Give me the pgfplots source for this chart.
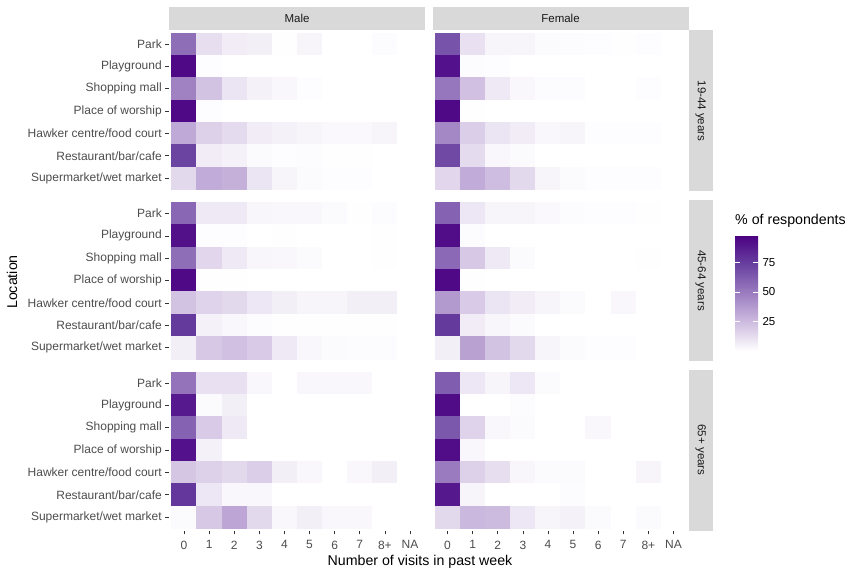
\documentclass[border=0pt]{standalone}
\usepackage{pgfplots}
\pgfplotsset{compat=1.18}
\usepackage{pgfplotstable}
\usepackage{fontspec}
\setmainfont{Liberation Sans}
\definecolor{stripbg}{HTML}{D9D9D9}
\definecolor{stripfg}{HTML}{1A1A1A}
\definecolor{ticklab}{HTML}{4D4D4D}
\definecolor{tickcol}{HTML}{333333}

% Male 19-44
\pgfplotstableread[row sep=\\]{
x y c\\
0 7 55\\ 1 7 12\\ 2 7 7\\ 3 7 6\\ 4 7 0.5\\ 5 7 4\\ 6 7 0\\ 7 7 0\\ 8 7 1.5\\ 9 7 0\\
0 6 95\\ 1 6 1\\ 2 6 0\\ 3 6 0\\ 4 6 0\\ 5 6 0\\ 6 6 0\\ 7 6 0\\ 8 6 0\\ 9 6 0\\
0 5 47\\ 1 5 22\\ 2 5 10\\ 3 5 5\\ 4 5 3\\ 5 5 1\\ 6 5 0\\ 7 5 0\\ 8 5 0\\ 9 5 0\\
0 4 95\\ 1 4 1\\ 2 4 0\\ 3 4 0\\ 4 4 0\\ 5 4 0\\ 6 4 0\\ 7 4 0\\ 8 4 0\\ 9 4 0\\
0 3 32\\ 1 3 17\\ 2 3 13\\ 3 3 7\\ 4 3 5\\ 5 3 4\\ 6 3 2.5\\ 7 3 2.5\\ 8 3 4\\ 9 3 0\\
0 2 72\\ 1 2 7\\ 2 2 5\\ 3 2 2\\ 4 2 1\\ 5 2 1.5\\ 6 2 0.5\\ 7 2 0.5\\ 8 2 0\\ 9 2 0\\
0 1 14\\ 1 1 31\\ 2 1 29\\ 3 1 10\\ 4 1 4\\ 5 1 2\\ 6 1 1\\ 7 1 1\\ 8 1 0\\ 9 1 0\\
}\Mone
% Female 19-44
\pgfplotstableread[row sep=\\]{
x y c\\
0 7 66\\ 1 7 11\\ 2 7 4\\ 3 7 4\\ 4 7 2\\ 5 7 1.5\\ 6 7 1\\ 7 7 0.5\\ 8 7 1\\ 9 7 0\\
0 6 91\\ 1 6 1.5\\ 2 6 1\\ 3 6 0\\ 4 6 0\\ 5 6 0\\ 6 6 0\\ 7 6 0\\ 8 6 0\\ 9 6 0\\
0 5 52\\ 1 5 23\\ 2 5 8\\ 3 5 3\\ 4 5 1.5\\ 5 5 1.5\\ 6 5 0\\ 7 5 0\\ 8 5 1\\ 9 5 0\\
0 4 95\\ 1 4 0.5\\ 2 4 0\\ 3 4 0\\ 4 4 0\\ 5 4 0\\ 6 4 0\\ 7 4 0\\ 8 4 0\\ 9 4 0\\
0 3 45\\ 1 3 18\\ 2 3 10\\ 3 3 7\\ 4 3 3\\ 5 3 4\\ 6 3 1\\ 7 3 1\\ 8 3 1\\ 9 3 0\\
0 2 70\\ 1 2 13\\ 2 2 3\\ 3 2 2\\ 4 2 0\\ 5 2 0\\ 6 2 0\\ 7 2 0\\ 8 2 0\\ 9 2 0\\
0 1 15\\ 1 1 31\\ 2 1 24\\ 3 1 14\\ 4 1 4\\ 5 1 2\\ 6 1 1\\ 7 1 1\\ 8 1 1\\ 9 1 0\\
}\Fone
% Male 45-64
\pgfplotstableread[row sep=\\]{
x y c\\
0 7 58\\ 1 7 8\\ 2 7 8\\ 3 7 3.5\\ 4 7 3\\ 5 7 3\\ 6 7 2\\ 7 7 0.5\\ 8 7 1.5\\ 9 7 0\\
0 6 92\\ 1 6 1\\ 2 6 1\\ 3 6 0\\ 4 6 0.5\\ 5 6 0\\ 6 6 0\\ 7 6 0\\ 8 6 0.5\\ 9 6 0\\
0 5 55\\ 1 5 15\\ 2 5 8\\ 3 5 3.5\\ 4 5 3\\ 5 5 2\\ 6 5 0\\ 7 5 0\\ 8 5 0.5\\ 9 5 0\\
0 4 95\\ 1 4 0.3\\ 2 4 0.5\\ 3 4 0\\ 4 4 0\\ 5 4 0\\ 6 4 0\\ 7 4 0\\ 8 4 0\\ 9 4 0\\
0 3 22\\ 1 3 16\\ 2 3 14\\ 3 3 9\\ 4 3 6\\ 5 3 4\\ 6 3 4\\ 7 3 6\\ 8 3 6\\ 9 3 0\\
0 2 76\\ 1 2 5\\ 2 2 3\\ 3 2 1.5\\ 4 2 0.5\\ 5 2 0.5\\ 6 2 0.5\\ 7 2 0.5\\ 8 2 0.5\\ 9 2 0\\
0 1 6\\ 1 1 20\\ 2 1 23\\ 3 1 19\\ 4 1 8\\ 5 1 3\\ 6 1 2\\ 7 1 1.5\\ 8 1 1.5\\ 9 1 0\\
}\Mtwo
% Female 45-64
\pgfplotstableread[row sep=\\]{
x y c\\
0 7 60\\ 1 7 9\\ 2 7 4\\ 3 7 4\\ 4 7 2.5\\ 5 7 1.5\\ 6 7 1\\ 7 7 1\\ 8 7 0.5\\ 9 7 0\\
0 6 93\\ 1 6 1.5\\ 2 6 0\\ 3 6 0\\ 4 6 0\\ 5 6 0\\ 6 6 0\\ 7 6 0\\ 8 6 0\\ 9 6 0\\
0 5 57\\ 1 5 20\\ 2 5 8\\ 3 5 2\\ 4 5 0\\ 5 5 0\\ 6 5 0\\ 7 5 0\\ 8 5 0.5\\ 9 5 0\\
0 4 95\\ 1 4 0.5\\ 2 4 0\\ 3 4 0\\ 4 4 0\\ 5 4 0\\ 6 4 0\\ 7 4 0\\ 8 4 0\\ 9 4 0\\
0 3 38\\ 1 3 19\\ 2 3 10\\ 3 3 7\\ 4 3 4\\ 5 3 2\\ 6 3 0\\ 7 3 3\\ 8 3 0\\ 9 3 0\\
0 2 76\\ 1 2 7\\ 2 2 3.5\\ 3 2 2\\ 4 2 0\\ 5 2 0\\ 6 2 0\\ 7 2 0\\ 8 2 0\\ 9 2 0\\
0 1 6\\ 1 1 35\\ 2 1 22\\ 3 1 14\\ 4 1 4\\ 5 1 2\\ 6 1 1\\ 7 1 1\\ 8 1 0\\ 9 1 0\\
}\Ftwo
% Male 65+
\pgfplotstableread[row sep=\\]{
x y c\\
0 7 53\\ 1 7 11\\ 2 7 11\\ 3 7 3\\ 4 7 0\\ 5 7 3\\ 6 7 3\\ 7 7 3\\ 8 7 0\\ 9 7 0\\
0 6 88\\ 1 6 2\\ 2 6 6\\ 3 6 0\\ 4 6 0\\ 5 6 0\\ 6 6 0\\ 7 6 0\\ 8 6 0\\ 9 6 0\\
0 5 60\\ 1 5 19\\ 2 5 8\\ 3 5 0\\ 4 5 0\\ 5 5 0\\ 6 5 0\\ 7 5 0\\ 8 5 0\\ 9 5 0\\
0 4 91\\ 1 4 5\\ 2 4 0\\ 3 4 0\\ 4 4 0\\ 5 4 0\\ 6 4 0\\ 7 4 0\\ 8 4 0\\ 9 4 0\\
0 3 21\\ 1 3 17\\ 2 3 14\\ 3 3 18\\ 4 3 6\\ 5 3 3\\ 6 3 0\\ 7 3 3\\ 8 3 6\\ 9 3 0\\
0 2 77\\ 1 2 9\\ 2 2 3\\ 3 2 3\\ 4 2 0\\ 5 2 0\\ 6 2 0\\ 7 2 0\\ 8 2 0\\ 9 2 0\\
0 1 2\\ 1 1 20\\ 2 1 33\\ 3 1 14\\ 4 1 3\\ 5 1 6\\ 6 1 3\\ 7 1 3\\ 8 1 0\\ 9 1 0\\
}\Mthree
% Female 65+
\pgfplotstableread[row sep=\\]{
x y c\\
0 7 62\\ 1 7 9\\ 2 7 4\\ 3 7 9\\ 4 7 2\\ 5 7 0\\ 6 7 0\\ 7 7 0\\ 8 7 0\\ 9 7 0\\
0 6 94\\ 1 6 0\\ 2 6 0\\ 3 6 1.5\\ 4 6 0\\ 5 6 0\\ 6 6 0\\ 7 6 0\\ 8 6 0\\ 9 6 0\\
0 5 64\\ 1 5 16\\ 2 5 3\\ 3 5 2\\ 4 5 0\\ 5 5 0\\ 6 5 3\\ 7 5 0\\ 8 5 0\\ 9 5 0\\
0 4 93\\ 1 4 3\\ 2 4 0\\ 3 4 0\\ 4 4 0\\ 5 4 0\\ 6 4 0\\ 7 4 0\\ 8 4 0\\ 9 4 0\\
0 3 50\\ 1 3 17\\ 2 3 12\\ 3 3 3.5\\ 4 3 2\\ 5 3 2\\ 6 3 0\\ 7 3 0\\ 8 3 4\\ 9 3 0\\
0 2 89\\ 1 2 4\\ 2 2 0\\ 3 2 0\\ 4 2 0\\ 5 2 1.5\\ 6 2 0\\ 7 2 0\\ 8 2 0\\ 9 2 0\\
0 1 14\\ 1 1 26\\ 2 1 25\\ 3 1 9\\ 4 1 4\\ 5 1 5\\ 6 1 2\\ 7 1 0\\ 8 1 2\\ 9 1 0\\
}\Fthree

\pgfplotsset{
  colormap={ggpurp}{rgb255=(255,255,255) rgb255=(206,188,224) rgb255=(156,125,192) rgb255=(104,64,160) rgb255=(75,0,130)},
  panel/.style={
    scale only axis, width=256pt, height=161pt,
    xmin=-0.6, xmax=9.6, ymin=0.4, ymax=7.6,
    axis line style={draw=none},
    colormap name=ggpurp, point meta min=0, point meta max=98,
    tick align=outside, major tick length=3.7pt,
    tick style={draw=tickcol, line width=0.55pt},
    xtick=\empty, ytick=\empty,
    ticklabel style={font=\fontsize{12}{14}\selectfont, text=ticklab},
    xticklabel style={yshift=-3pt},
    anchor=south west,
  },
  xt/.style={xtick={0,...,9}, xticklabels={0,1,2,3,4,5,6,7,8+,NA}, xtick pos=bottom},
  yt/.style={ytick={1,...,7}, yticklabels={Supermarket/wet market,Restaurant/bar/cafe,Hawker centre/food court,Place of worship,Shopping mall,Playground,Park}, ytick pos=left},
  heat/.style={matrix plot*, mesh/cols=10, point meta=explicit},
}

\begin{document}
\begin{tikzpicture}
\useasboundingbox[fill=white] (0pt,0pt) rectangle (864pt,576pt);

% top strips
\fill[stripbg] (169pt,545.5pt) rectangle (425pt,569.3pt);
\fill[stripbg] (432.5pt,545.5pt) rectangle (688.5pt,569.3pt);
\node[text=stripfg, font=\fontsize{11.5}{13}\selectfont] at (297pt,557.4pt) {Male};
\node[text=stripfg, font=\fontsize{11.5}{13}\selectfont] at (560.5pt,557.4pt) {Female};

% right strips
\fill[stripbg] (689pt,384.5pt) rectangle (712.5pt,545.5pt);
\fill[stripbg] (689pt,215pt) rectangle (712.5pt,376pt);
\fill[stripbg] (689pt,45.5pt) rectangle (712.5pt,206.5pt);
\node[text=stripfg, font=\fontsize{11.5}{13}\selectfont, rotate=-90] at (700.75pt,465pt) {19-44 years};
\node[text=stripfg, font=\fontsize{11.5}{13}\selectfont, rotate=-90] at (700.75pt,295.5pt) {45-64 years};
\node[text=stripfg, font=\fontsize{11.5}{13}\selectfont, rotate=-90] at (700.75pt,126pt) {65+ years};

% row 1
\begin{axis}[panel, yt, at={(169pt,384.5pt)}]
\addplot[heat] table[x=x,y=y,meta=c]{\Mone};
\end{axis}
\begin{axis}[panel, at={(432.5pt,384.5pt)}]
\addplot[heat] table[x=x,y=y,meta=c]{\Fone};
\end{axis}
% row 2
\begin{axis}[panel, yt, at={(169pt,215pt)}]
\addplot[heat] table[x=x,y=y,meta=c]{\Mtwo};
\end{axis}
\begin{axis}[panel, at={(432.5pt,215pt)},
  colorbar, colorbar/width=23pt,
  colorbar style={
    at={(parent axis.north east)}, anchor=north west, xshift=38pt, yshift=-35pt,
    scale only axis, width=23pt, height=116pt,
    ytick={25,50,75}, yticklabels={25,50,75},
    axis line style={draw=none},
    tick align=inside, major tick length=4.6pt,
    tick style={draw=white, line width=0.6pt},
    ytick pos=both, yticklabel pos=right,
    yticklabel style={font=\fontsize{11.5}{13}\selectfont, text=black, xshift=1pt},
  }]
\addplot[heat] table[x=x,y=y,meta=c]{\Ftwo};
\end{axis}
% row 3
\begin{axis}[panel, yt, xt, at={(169pt,45.5pt)}]
\addplot[heat] table[x=x,y=y,meta=c]{\Mthree};
\end{axis}
\begin{axis}[panel, xt, at={(432.5pt,45.5pt)}]
\addplot[heat] table[x=x,y=y,meta=c]{\Fthree};
\end{axis}

% titles
\node[font=\fontsize{14.2}{17}\selectfont, rotate=90] at (12pt,294pt) {Location};
\node[font=\fontsize{14.2}{17}\selectfont] at (420pt,14pt) {Number of visits in past week};
\node[font=\fontsize{14.2}{17}\selectfont, anchor=west, inner sep=0pt] at (735pt,355.3pt) {\% of respondents};
\end{tikzpicture}
\end{document}
